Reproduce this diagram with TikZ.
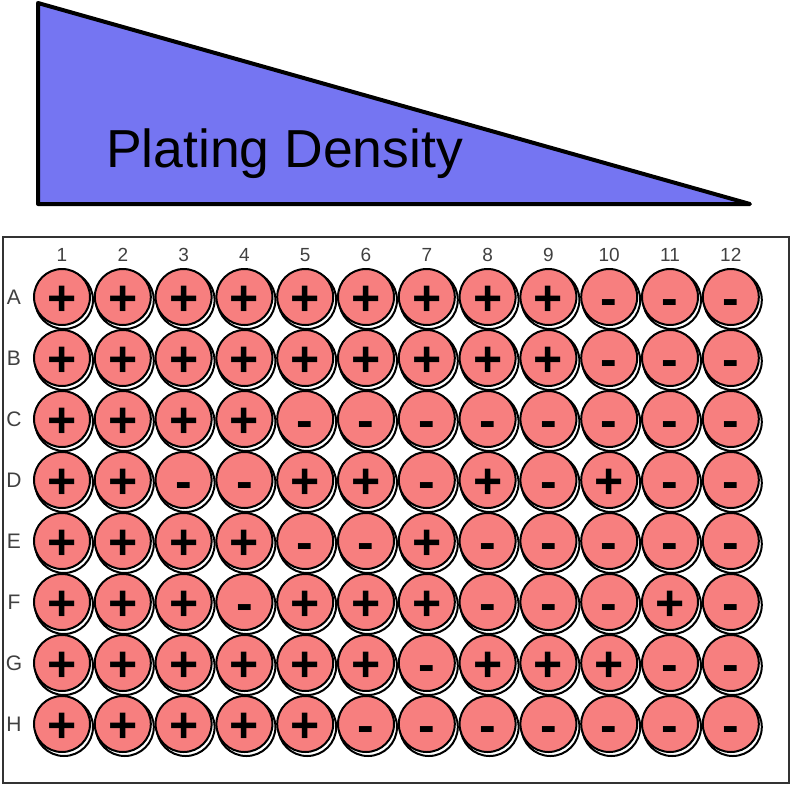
\documentclass[tikz,border=0pt]{standalone}
\usepackage{fontspec}
\setmainfont{Liberation Sans}
\definecolor{wedge}{HTML}{7575F2}
\definecolor{wellfill}{HTML}{F77F7F}
\begin{document}
\begin{tikzpicture}[x=1pt,y=-1pt,
  well/.style={circle, draw=black, line width=2, fill=wellfill, minimum size=56, inner sep=0,
    text height=36pt, text depth=0pt,
    font=\fontsize{50}{50}\selectfont\bfseries},
  wellshadow/.style={draw=black, line width=2, fill=white},
  collbl/.style={font=\fontsize{19}{19}\selectfont, text=black!75, inner sep=0},
  rowlbl/.style={font=\fontsize{21}{21}\selectfont, text=black!75, inner sep=0}]
\useasboundingbox (0,0) rectangle (793,788);
% density wedge
\draw[line width=4, fill=wedge, line join=round] (38,3) -- (38,204) -- (750,204) -- cycle;
\node[font=\fontsize{53.5}{56}\selectfont, anchor=base, inner sep=0] (title) at (284.5,167) {Plating Density};
% plate
\draw[line width=2, draw=black!80] (3,237) rectangle (789,783);
% column labels
\foreach \c in {1,...,12}{
  \node[collbl] (col\c) at ({62+(\c-1)*60.8},255) {\c};
}
% wells
\foreach \r/\lst [count=\i] in {
  A/{+,+,+,+,+,+,+,+,+,-,-,-},
  B/{+,+,+,+,+,+,+,+,+,-,-,-},
  C/{+,+,+,+,-,-,-,-,-,-,-,-},
  D/{+,+,-,-,+,+,-,+,-,+,-,-},
  E/{+,+,+,+,-,-,+,-,-,-,-,-},
  F/{+,+,+,-,+,+,+,-,-,-,+,-},
  G/{+,+,+,+,+,+,-,+,+,+,-,-},
  H/{+,+,+,+,+,-,-,-,-,-,-,-}}{
  \node[rowlbl] (row\r) at (14,{297+(\i-1)*61}) {\r};
  \foreach \s [count=\c] in \lst {
    \draw[wellshadow] ({62+(\c-1)*60.8+2},{297+(\i-1)*61+3}) circle (29);
    \node[well] (\r\c) at ({62+(\c-1)*60.8},{297+(\i-1)*61}) {\s};
  }
}
\end{tikzpicture}
\end{document}
